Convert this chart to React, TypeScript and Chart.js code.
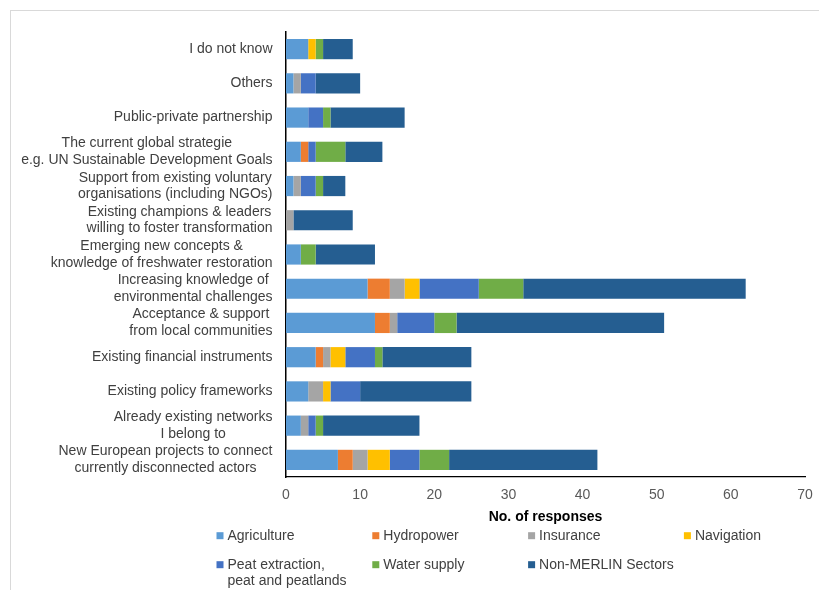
import React, { useEffect, useRef } from "react";
import { Chart, registerables } from "chart.js";

Chart.register(...registerables);

const categories = [
  "I do not know",
  "Others",
  "Public-private partnership",
  "The current global strategie\ne.g. UN Sustainable Development Goals",
  "Support from existing voluntary\norganisations (including NGOs)",
  "Existing champions & leaders\nwilling to foster transformation",
  "Emerging new concepts &\nknowledge of freshwater restoration",
  "Increasing knowledge of\nenvironmental challenges",
  "Acceptance & support\nfrom local communities",
  "Existing financial instruments",
  "Existing policy frameworks",
  "Already existing networks\nI belong to",
  "New European projects to connect\ncurrently disconnected actors",
];

const seriesNames = [
  "Agriculture",
  "Hydropower",
  "Insurance",
  "Navigation",
  "Peat extraction,\npeat and peatlands",
  "Water supply",
  "Non-MERLIN Sectors",
];

const seriesColors = ["#5B9BD5", "#ED7D31", "#A5A5A5", "#FFC000", "#4472C4", "#70AD47", "#255E91"];

const agriculture = [3, 1, 3, 2, 1, 0, 2, 11, 12, 4, 3, 2, 7];
const hydropower = [0, 0, 0, 1, 0, 0, 0, 3, 2, 1, 0, 0, 2];
const insurance = [0, 1, 0, 0, 1, 1, 0, 2, 1, 1, 2, 1, 2];
const navigation = [1, 0, 0, 0, 0, 0, 0, 2, 0, 2, 1, 0, 3];
const peat = [0, 2, 2, 1, 2, 0, 0, 8, 5, 4, 4, 1, 4];
const waterSupply = [1, 0, 1, 4, 1, 0, 2, 6, 3, 1, 0, 1, 4];
const nonMerlin = [4, 6, 10, 5, 3, 8, 8, 30, 28, 12, 15, 13, 20];

const seriesValues = [agriculture, hydropower, insurance, navigation, peat, waterSupply, nonMerlin];

const xTitle = "No. of responses";
const xMin = 0;
const xMax = 70;
const xStep = 10;

const FONT = '"Liberation Sans", Arial, sans-serif';
const FS = 14;

const yLabelPlugin = {
  id: "yLabels",
  afterDraw(chart: any) {
    const ctx = chart.ctx;
    const y = chart.scales.y;
    ctx.save();
    ctx.font = `${FS}px ${FONT}`;
    ctx.fillStyle = "#404040";
    ctx.textBaseline = "middle";
    ctx.textAlign = "center";
    const right = chart.chartArea.left - 13.5;
    const lh = 16.7;
    categories.forEach((c, i) => {
      const lines = c.split("\n");
      const w = Math.max(...lines.map((l) => ctx.measureText(l).width));
      const cy = y.getPixelForValue(i);
      lines.forEach((l, j) => {
        ctx.fillText(l, right - w / 2, cy + (j - (lines.length - 1) / 2) * lh);
      });
    });
    ctx.restore();
  },
};

const legendPlugin = {
  id: "customLegend",
  afterDraw(chart: any) {
    const ctx = chart.ctx;
    const area = chart.chartArea;
    ctx.save();
    // axis title
    ctx.font = `bold ${FS}px ${FONT}`;
    ctx.fillStyle = "#000000";
    ctx.textAlign = "center";
    ctx.textBaseline = "middle";
    ctx.fillText(xTitle, (area.left + area.right) / 2, 517);
    // legend
    ctx.font = `${FS}px ${FONT}`;
    ctx.textAlign = "left";
    seriesNames.forEach((name, i) => {
      const col = i % 4;
      const row = Math.floor(i / 4);
      const x = 216.5 + col * 155.8;
      const yc = 535.7 + row * 29;
      ctx.fillStyle = seriesColors[i];
      ctx.fillRect(x, yc - 3.5, 7, 7);
      ctx.fillStyle = "#404040";
      name.split("\n").forEach((l, j) => {
        ctx.fillText(l, x + 11, yc + j * 16.5);
      });
    });
    ctx.restore();
  },
};

export default function App() {
  const ref = useRef<HTMLCanvasElement | null>(null);
  useEffect(() => {
    if (!ref.current) return;
    const chart = new Chart(ref.current, {
      type: "bar",
      data: {
        labels: categories.map((c) => c.replace("\n", " ")),
        datasets: seriesNames.map((n, i) => ({
          label: n.replace("\n", " "),
          data: seriesValues[i],
          backgroundColor: seriesColors[i],
          borderWidth: 0,
          barPercentage: 0.59,
          categoryPercentage: 1,
        })),
      },
      options: {
        indexAxis: "y",
        animation: false,
        responsive: false,
        maintainAspectRatio: false,
        layout: { padding: { left: 0, right: 14, top: 32, bottom: 0 } },
        plugins: { legend: { display: false }, tooltip: { enabled: false }, title: { display: false } },
        scales: {
          x: {
            stacked: true,
            min: xMin,
            max: xMax,
            ticks: { stepSize: xStep, padding: 10, color: "#595959", font: { size: FS, family: FONT } },
            grid: { display: false, drawTicks: false },
            border: { display: true, color: "#000000", width: 1.2 },
            afterFit: (s: any) => {
              s.height = 113;
              s.paddingLeft = 0;
              s.paddingRight = 0;
            },
          },
          y: {
            stacked: true,
            ticks: { display: false },
            grid: { display: false, drawTicks: false },
            border: { display: true, color: "#000000", width: 1.5 },
            afterFit: (s: any) => {
              s.width = 286;
              s.paddingTop = 0;
              s.paddingBottom = 0;
            },
          },
        },
      },
      plugins: [yLabelPlugin, legendPlugin],
    });
    return () => chart.destroy();
  }, []);
  return (
    <div style={{ position: "fixed", left: 0, top: 0, width: 819, height: 590, background: "#fff" }}>
      <div
        style={{
          position: "absolute",
          left: 10,
          top: 10,
          width: 820,
          height: 590,
          borderTop: "1.5px solid #d9d9d9",
          borderLeft: "1.5px solid #d9d9d9",
        }}
      />
      <canvas ref={ref} width={819} height={590} style={{ position: "absolute", left: 0, top: 0, width: 819, height: 590 }} />
    </div>
  );
}
